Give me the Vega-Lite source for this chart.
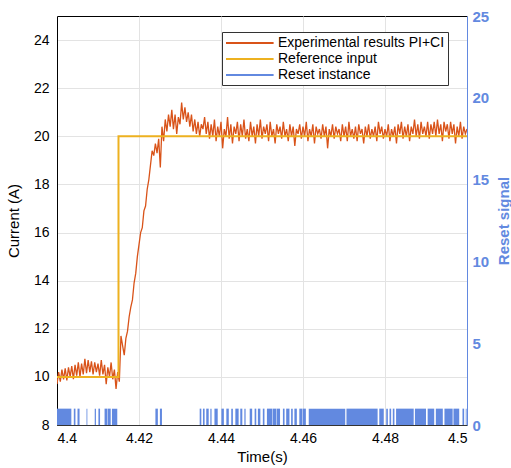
{
"$schema": "https://vega.github.io/schema/vega-lite/v6.json",
"width": 410, "height": 409,
"autosize": "none",
"padding": {"left": 57, "top": 16, "right": 44, "bottom": 43},
"config": {"font": "Liberation Sans", "view": {"stroke": "#000", "strokeWidth": 1},
  "axis": {"gridColor": "#e3e3e3", "gridWidth": 1, "labelFontSize": 14, "titleFontSize": 15, "titleFontWeight": "normal", "labelColor": "#000", "titleColor": "#000"}},
"layer": [
 {"layer": [
  {"data": {"values": [
{"t":4.4000,"v":9.7},{"t":4.4004,"v":10.2},{"t":4.4008,"v":9.8},{"t":4.4012,"v":10.3},{"t":4.4016,"v":9.9},{"t":4.4020,"v":10.35},{"t":4.4024,"v":9.85},{"t":4.4028,"v":10.4},{"t":4.4032,"v":10.0},{"t":4.4036,"v":10.45},{"t":4.4040,"v":9.9},{"t":4.4044,"v":10.5},{"t":4.4048,"v":10.05},{"t":4.4052,"v":10.6},{"t":4.4056,"v":10.0},{"t":4.4060,"v":10.55},{"t":4.4064,"v":10.1},{"t":4.4068,"v":10.75},{"t":4.4072,"v":10.15},{"t":4.4076,"v":10.7},{"t":4.4080,"v":10.2},{"t":4.4084,"v":10.65},{"t":4.4088,"v":10.1},{"t":4.4092,"v":10.6},{"t":4.4096,"v":10.2},{"t":4.4100,"v":10.55},{"t":4.4104,"v":10.05},{"t":4.4108,"v":10.7},{"t":4.4112,"v":10.1},{"t":4.4116,"v":10.5},{"t":4.4120,"v":9.7},{"t":4.4124,"v":10.4},{"t":4.4128,"v":10.0},{"t":4.4132,"v":10.6},{"t":4.4136,"v":9.9},{"t":4.4140,"v":10.3},{"t":4.4144,"v":9.5},{"t":4.4148,"v":10.2},{"t":4.4152,"v":9.8},
{"t":4.4156,"v":11.7},{"t":4.4160,"v":11.3},{"t":4.4164,"v":10.9},{"t":4.4168,"v":11.6},{"t":4.4172,"v":11.9},{"t":4.4176,"v":12.5},{"t":4.4180,"v":12.9},{"t":4.4184,"v":13.2},{"t":4.4188,"v":13.9},{"t":4.4192,"v":14.3},{"t":4.4196,"v":15.0},{"t":4.4200,"v":15.5},{"t":4.4204,"v":16.0},{"t":4.4208,"v":16.2},{"t":4.4212,"v":16.9},{"t":4.4216,"v":17.1},{"t":4.4220,"v":17.8},{"t":4.4224,"v":18.2},{"t":4.4228,"v":18.8},{"t":4.4232,"v":19.4},{"t":4.4236,"v":19.2},{"t":4.4240,"v":19.7},{"t":4.4244,"v":19.3},{"t":4.4248,"v":19.9},{"t":4.4252,"v":18.7},{"t":4.4256,"v":20.4},
{"t":4.4260,"v":19.8},{"t":4.4264,"v":20.7},{"t":4.4268,"v":20.2},{"t":4.4272,"v":20.9},{"t":4.4276,"v":20.4},{"t":4.4280,"v":21.1},{"t":4.4284,"v":20.3},{"t":4.4288,"v":20.9},{"t":4.4292,"v":20.1},{"t":4.4296,"v":20.8},{"t":4.4300,"v":20.5},{"t":4.4304,"v":21.4},{"t":4.4308,"v":20.7},{"t":4.4312,"v":21.2},{"t":4.4316,"v":20.6},{"t":4.4320,"v":21.0},{"t":4.4324,"v":20.4},{"t":4.4328,"v":20.9},{"t":4.4332,"v":20.2},{"t":4.4336,"v":20.7},{"t":4.4340,"v":20.1},{"t":4.4344,"v":20.6},{"t":4.4348,"v":20.0},{"t":4.4352,"v":20.5},
{"t":4.4356,"v":20.3},{"t":4.4360,"v":20.8},{"t":4.4364,"v":20.1},{"t":4.4368,"v":20.6},{"t":4.4372,"v":19.9},{"t":4.4376,"v":20.5},{"t":4.4380,"v":20.0},{"t":4.4384,"v":20.7},{"t":4.4388,"v":19.8},{"t":4.4392,"v":20.4},{"t":4.4396,"v":20.0},{"t":4.4400,"v":20.6},{"t":4.4404,"v":19.5},{"t":4.4408,"v":20.3},{"t":4.4412,"v":20.0},{"t":4.4416,"v":20.8},{"t":4.4420,"v":19.9},{"t":4.4424,"v":20.5},{"t":4.4428,"v":19.7},{"t":4.4432,"v":20.4},{"t":4.4436,"v":20.1},{"t":4.4440,"v":20.6},{"t":4.4444,"v":19.8},{"t":4.4448,"v":20.5},{"t":4.4452,"v":20.0},{"t":4.4456,"v":20.7},{"t":4.4460,"v":19.9},{"t":4.4464,"v":20.3},{"t":4.4468,"v":19.8},{"t":4.4472,"v":20.6},{"t":4.4476,"v":20.0},{"t":4.4480,"v":20.4},{"t":4.4484,"v":19.7},{"t":4.4488,"v":20.5},{"t":4.4492,"v":20.0},{"t":4.4496,"v":20.7},{"t":4.4500,"v":19.9},{"t":4.4504,"v":20.4},{"t":4.4508,"v":20.1},{"t":4.4512,"v":20.5},{"t":4.4516,"v":19.8},{"t":4.4520,"v":20.6},{"t":4.4524,"v":20.0},{"t":4.4528,"v":20.3},{"t":4.4532,"v":19.7},{"t":4.4536,"v":20.5},{"t":4.4540,"v":20.1},{"t":4.4544,"v":20.4},{"t":4.4548,"v":19.9},{"t":4.4552,"v":20.6},{"t":4.4556,"v":20.0},{"t":4.4560,"v":20.3},{"t":4.4564,"v":19.8},{"t":4.4568,"v":20.5},{"t":4.4572,"v":20.0},{"t":4.4576,"v":20.4},{"t":4.4580,"v":19.6},{"t":4.4584,"v":20.3},{"t":4.4588,"v":20.1},{"t":4.4592,"v":20.5},{"t":4.4596,"v":19.9},{"t":4.4600,"v":20.4},
{"t":4.4604,"v":20.0},{"t":4.4608,"v":20.6},{"t":4.4612,"v":19.8},{"t":4.4616,"v":20.3},{"t":4.4620,"v":20.0},{"t":4.4624,"v":20.5},{"t":4.4628,"v":19.7},{"t":4.4632,"v":20.4},{"t":4.4636,"v":20.1},{"t":4.4640,"v":20.3},{"t":4.4644,"v":19.9},{"t":4.4648,"v":20.5},{"t":4.4652,"v":20.0},{"t":4.4656,"v":20.4},{"t":4.4660,"v":19.5},{"t":4.4664,"v":20.3},{"t":4.4668,"v":20.0},{"t":4.4672,"v":20.5},{"t":4.4676,"v":19.9},{"t":4.4680,"v":20.4},{"t":4.4684,"v":20.1},{"t":4.4688,"v":20.3},{"t":4.4692,"v":19.8},{"t":4.4696,"v":20.5},{"t":4.4700,"v":20.0},{"t":4.4704,"v":20.4},{"t":4.4708,"v":19.8},{"t":4.4712,"v":20.6},{"t":4.4716,"v":20.0},{"t":4.4720,"v":20.3},{"t":4.4724,"v":19.9},{"t":4.4728,"v":20.4},{"t":4.4732,"v":19.8},{"t":4.4736,"v":20.5},{"t":4.4740,"v":20.1},{"t":4.4744,"v":20.3},{"t":4.4748,"v":19.7},{"t":4.4752,"v":20.4},{"t":4.4756,"v":20.0},{"t":4.4760,"v":20.5},{"t":4.4764,"v":19.9},{"t":4.4768,"v":20.3},{"t":4.4772,"v":20.0},{"t":4.4776,"v":20.4},{"t":4.4780,"v":19.8},{"t":4.4784,"v":20.6},{"t":4.4788,"v":20.1},{"t":4.4792,"v":20.4},{"t":4.4796,"v":19.9},{"t":4.4800,"v":20.3},
{"t":4.4804,"v":20.0},{"t":4.4808,"v":20.5},{"t":4.4812,"v":19.8},{"t":4.4816,"v":20.3},{"t":4.4820,"v":20.0},{"t":4.4824,"v":20.4},{"t":4.4828,"v":19.7},{"t":4.4832,"v":20.5},{"t":4.4836,"v":20.1},{"t":4.4840,"v":20.6},{"t":4.4844,"v":19.9},{"t":4.4848,"v":20.4},{"t":4.4852,"v":20.0},{"t":4.4856,"v":20.5},{"t":4.4860,"v":19.8},{"t":4.4864,"v":20.4},{"t":4.4868,"v":20.1},{"t":4.4872,"v":20.7},{"t":4.4876,"v":20.0},{"t":4.4880,"v":20.5},{"t":4.4884,"v":19.9},{"t":4.4888,"v":20.6},{"t":4.4892,"v":20.1},{"t":4.4896,"v":20.4},{"t":4.4900,"v":20.0},{"t":4.4904,"v":20.6},{"t":4.4908,"v":19.9},{"t":4.4912,"v":20.5},{"t":4.4916,"v":20.1},{"t":4.4920,"v":20.6},{"t":4.4924,"v":20.0},{"t":4.4928,"v":20.7},{"t":4.4932,"v":20.1},{"t":4.4936,"v":20.5},{"t":4.4940,"v":19.8},{"t":4.4944,"v":20.6},{"t":4.4948,"v":20.2},{"t":4.4952,"v":20.5},{"t":4.4956,"v":19.9},{"t":4.4960,"v":20.6},{"t":4.4964,"v":20.1},{"t":4.4968,"v":20.5},{"t":4.4972,"v":19.7},{"t":4.4976,"v":20.4},{"t":4.4980,"v":20.0},{"t":4.4984,"v":20.6},{"t":4.4988,"v":19.9},{"t":4.4992,"v":20.4},{"t":4.4996,"v":20.1},{"t":4.5000,"v":20.3}
  ]},
   "mark": {"type": "line", "strokeWidth": 1.3, "clip": true},
   "encoding": {
    "x": {"field": "t", "type": "quantitative", "scale": {"domain": [4.4, 4.5], "nice": false},
      "axis": {"values": [4.4, 4.42, 4.44, 4.46, 4.48, 4.5], "format": ".3~g", "title": "Time(s)", "grid": true, "ticks": false, "labelPadding": 6, "titlePadding": 4, "domainColor": "#333"}},
    "y": {"field": "v", "type": "quantitative", "scale": {"domain": [8, 25], "nice": false, "zero": false},
      "axis": {"values": [8, 10, 12, 14, 16, 18, 20, 22, 24], "title": "Current (A)", "grid": true, "ticks": false, "labelPadding": 8, "titlePadding": 12, "domainColor": "#000"}},
    "color": {"datum": "Experimental results PI+CI", "type": "nominal",
      "scale": {"domain": ["Experimental results PI+CI", "Reference input", "Reset instance"], "range": ["#d95319", "#edb120", "#6289e0"]},
      "legend": {"orient": "none", "legendX": 165, "legendY": 16, "title": null, "symbolType": "M-1,0H5.8", "symbolSize": 196, "symbolStrokeWidth": 2, "labelFontSize": 14, "labelColor": "#000", "labelOffset": 37, "labelLimit": 300, "strokeColor": "#333", "fillColor": "#fff", "padding": 3, "rowPadding": 1}}
   }},
  {"data": {"values": [{"i": 0, "t": 4.4, "v": 10}, {"i": 1, "t": 4.415, "v": 10}, {"i": 2, "t": 4.415, "v": 20}, {"i": 3, "t": 4.5, "v": 20}]},
   "mark": {"type": "line", "strokeWidth": 2},
   "encoding": {
    "x": {"field": "t", "type": "quantitative"},
    "y": {"field": "v", "type": "quantitative"},
    "order": {"field": "i"},
    "color": {"datum": "Reference input", "type": "nominal"}
   }}
 ]},
 {"data": {"values": [
{"s":4.4000,"e":4.4035},{"s":4.4041,"e":4.4045},{"s":4.4050,"e":4.4055},{"s":4.4072,"e":4.4074},{"s":4.4092,"e":4.4095},{"s":4.4101,"e":4.4105},{"s":4.4116,"e":4.4123},{"s":4.4124,"e":4.4131},{"s":4.4134,"e":4.4147},{"s":4.4240,"e":4.4246},{"s":4.4251,"e":4.4256},
{"s":4.4348,"e":4.4352},{"s":4.4356,"e":4.4360},{"s":4.4364,"e":4.4370},{"s":4.4374,"e":4.4377},{"s":4.4384,"e":4.4392},{"s":4.4401,"e":4.4407},{"s":4.4413,"e":4.4419},{"s":4.4425,"e":4.4429},{"s":4.4435,"e":4.4443},{"s":4.4447,"e":4.4452},{"s":4.4457,"e":4.4460},{"s":4.4470,"e":4.4476},{"s":4.4482,"e":4.4486},{"s":4.4490,"e":4.4496},{"s":4.4502,"e":4.4506},{"s":4.4512,"e":4.4525},{"s":4.4526,"e":4.4535},{"s":4.4536,"e":4.4544},{"s":4.4551,"e":4.4555},{"s":4.4559,"e":4.4567},{"s":4.4571,"e":4.4575},{"s":4.4579,"e":4.4585},{"s":4.4591,"e":4.4598},{"s":4.4599,"e":4.4607},
{"s":4.4614,"e":4.4703},{"s":4.4706,"e":4.4782},{"s":4.4786,"e":4.4797},{"s":4.4803,"e":4.4807},{"s":4.4811,"e":4.4815},{"s":4.4819,"e":4.4823},{"s":4.4827,"e":4.4870},{"s":4.4873,"e":4.4900},{"s":4.4904,"e":4.4920},{"s":4.4924,"e":4.4941},{"s":4.4945,"e":4.4965},{"s":4.4967,"e":4.4981},{"s":4.4989,"e":4.4993},{"s":4.4997,"e":4.4999}
 ]},
  "mark": {"type": "rect"},
  "encoding": {
   "x": {"field": "s", "type": "quantitative"},
   "x2": {"field": "e"},
   "y": {"datum": 1, "type": "quantitative", "scale": {"domain": [0, 25], "nice": false},
     "axis": {"orient": "right", "values": [0, 5, 10, 15, 20, 25], "title": "Reset signal", "titleAngle": 270, "titleBaseline": "top", "grid": false, "ticks": false, "labelPadding": 5, "titlePadding": 8, "domainColor": "#6289e0", "labelColor": "#6289e0", "titleColor": "#6289e0", "labelFontWeight": "bold", "labelFontSize": 15, "titleFontWeight": "bold", "titleFontSize": 15}},
   "y2": {"datum": 0},
   "color": {"datum": "Reset instance", "type": "nominal"}
  }}
],
"resolve": {"scale": {"y": "independent"}}
}
